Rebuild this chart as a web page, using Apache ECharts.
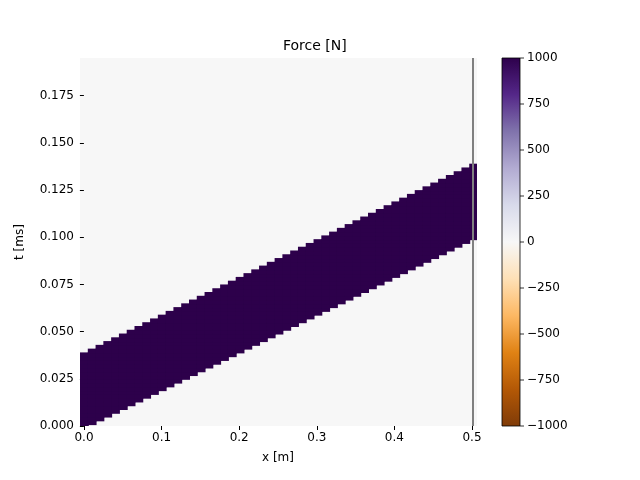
<!DOCTYPE html>
<html><head><meta charset="utf-8">
<script src="https://cdn.jsdelivr.net/npm/echarts@6/dist/echarts.min.js"></script>
<style>html,body{margin:0;padding:0;background:#fff}#c{width:640px;height:480px}</style>
</head><body><div id="c"></div>
<script>
const xCenters=[0,0.01,0.02,0.03,0.04,0.05,0.06,0.07,0.08,0.09,0.1,0.11,0.12,0.13,0.14,0.15,0.16,0.17,0.18,0.19,0.2,0.21,0.22,0.23,0.24,0.25,0.26,0.27,0.28,0.29,0.3,0.31,0.32,0.33,0.34,0.35,0.36,0.37,0.38,0.39,0.4,0.41,0.42,0.43,0.44,0.45,0.46,0.47,0.48,0.49,0.5];
// band start time (ms) per column, band length 0.04 ms, force 1000 N inside
const bandStart=[0,0.002,0.004,0.006,0.008,0.01,0.012,0.014,0.016,0.018,0.02,0.022,0.024,0.026,0.028,0.03,0.032,0.034,0.036,0.038,0.04,0.042,0.044,0.046,0.048,0.05,0.052,0.054,0.056,0.058,0.06,0.062,0.064,0.066,0.068,0.07,0.072,0.074,0.076,0.078,0.08,0.082,0.084,0.086,0.088,0.09,0.092,0.094,0.096,0.098,0.1];
const bandRows=20, dt=0.002, dx=0.01, force=1000;
const cbTicks=[-1000,-750,-500,-250,0,250,500,750,1000];
const cmap=['#7f3b08','#b35806','#e08214','#fdb863','#fee0b6','#f7f7f7','#d8daeb','#b2abd2','#8073ac','#542788','#2d004b'];
const data=[];
xCenters.forEach((x,j)=>{for(let r=0;r<bandRows;r++){data.push([x,+(bandStart[j]+r*dt).toFixed(4),force]);}});
const font='DejaVu Sans';
const cbX=502,cbY=58,cbW=18,cbH=368;
const chart=echarts.init(document.getElementById('c'));
chart.setOption({
  animation:false,
  title:{text:'Force [N]',left:278,top:34,textStyle:{fontFamily:font,fontSize:14,fontWeight:'normal',color:'#000'}},
  grid:[{left:80,right:163,top:58,bottom:54,show:true,backgroundColor:'#f7f7f7',borderWidth:0},
        {left:84,right:168,top:58,bottom:54,show:false}],
  xAxis:[{gridIndex:0,type:'value',min:-0.005,max:0.505,axisLine:{show:false},axisTick:{show:false},axisLabel:{show:false},splitLine:{show:false}},
         {gridIndex:1,type:'value',min:0,max:0.5,interval:0.1,name:'x [m]',nameLocation:'middle',nameGap:26,
          nameTextStyle:{fontFamily:font,fontSize:12,color:'#000'},
          axisLine:{show:false},axisTick:{show:true,length:4,lineStyle:{color:'#000'}},
          axisLabel:{fontFamily:font,fontSize:12,color:'#000',margin:6,formatter:v=>v.toFixed(1)},splitLine:{show:false}}],
  yAxis:[{gridIndex:0,type:'value',min:0,max:0.195,interval:0.025,name:'t [ms]',nameLocation:'middle',nameGap:54,
          nameTextStyle:{fontFamily:font,fontSize:12,color:'#000'},
          axisLine:{show:false},axisTick:{show:true,length:4,lineStyle:{color:'#000'}},
          axisLabel:{fontFamily:font,fontSize:12,color:'#000',margin:6,showMaxLabel:false,formatter:v=>v.toFixed(3)},splitLine:{show:false}},
         {gridIndex:1,type:'value',min:0,max:1,show:false}],
  visualMap:{type:'continuous',show:false,min:-1000,max:1000,dimension:2,seriesIndex:0,inRange:{color:cmap}},
  graphic:[{type:'rect',shape:{x:cbX,y:cbY,width:cbW,height:cbH},style:{fill:new echarts.graphic.LinearGradient(0,1,0,0,cmap.map((c,i)=>({offset:i/(cmap.length-1),color:c}))),stroke:'#000',lineWidth:0.8}}].concat(
    cbTicks.map(v=>{const y=cbY+cbH-(v+1000)/2000*cbH;return {type:'group',children:[
      {type:'line',shape:{x1:cbX+cbW,y1:y,x2:cbX+cbW+4,y2:y},style:{stroke:'#000',lineWidth:0.8}},
      {type:'text',x:cbX+cbW+7,y:y,style:{text:(v<0?'\u2212'+(-v):''+v),fontFamily:font,fontSize:12,fill:'#000',verticalAlign:'middle'}}]};})),
  series:[{type:'custom',xAxisIndex:0,yAxisIndex:0,clip:true,data:data,
    renderItem:(params,api)=>{const x=api.value(0),t=api.value(1);
      const p1=api.coord([x-dx/2,t+dt/2]),p2=api.coord([x+dx/2,t-dt/2]);
      return {type:'rect',shape:{x:p1[0],y:p1[1],width:p2[0]-p1[0]+1,height:p2[1]-p1[1]+1},style:{fill:api.visual('color')}};},
    markLine:{silent:true,symbol:'none',label:{show:false},lineStyle:{color:'#808080',width:2,type:'solid'},data:[{xAxis:0.5}]}}]
});
</script></body></html>
